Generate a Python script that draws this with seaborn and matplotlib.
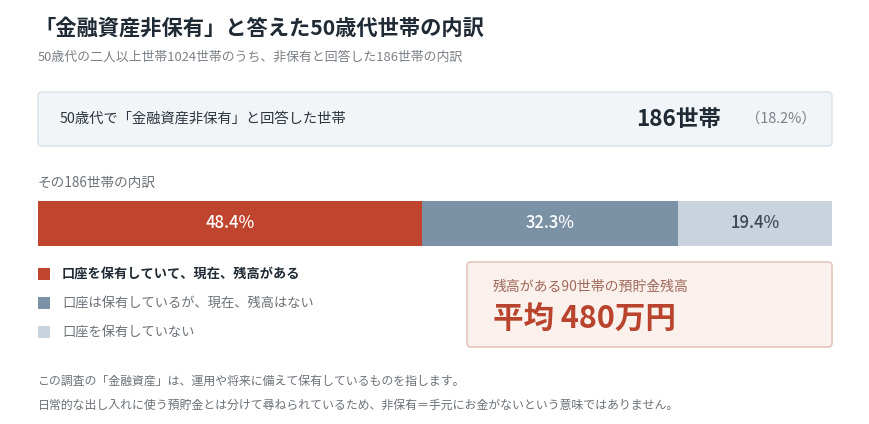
import numpy as np
import matplotlib
matplotlib.use("Agg")
import matplotlib.pyplot as plt
from matplotlib.patches import FancyBboxPatch, Rectangle
import seaborn as sns

# data
categories = ["口座を保有していて、現在、残高がある", "口座は保有しているが、現在、残高はない", "口座を保有していない"]
shares = [48.4, 32.3, 19.4]
colors = ["#c0452f", "#7a91a6", "#c8d3dd"]
label_colors = ["white", "white", "#3d4852"]
total_households = 186
total_share = 18.2
avg_balance = 480
holders_count = 90

sns.set_theme(style="white")
plt.rcParams['font.family'] = ['Noto Sans CJK JP', 'DejaVu Sans']

W, H = 870, 424
fig = plt.figure(figsize=(W / 100, H / 100), dpi=100)
fig.patch.set_facecolor("white")

# overlay axes in pixel coordinates for the text and the boxes
bg = fig.add_axes([0, 0, 1, 1])
bg.set_xlim(0, W)
bg.set_ylim(H, 0)
bg.axis("off")

# titles
bg.text(34, 28, "「金融資産非保有」と答えた50歳代世帯の内訳", fontsize=15.3, fontweight="bold",
        color="#1f2a35", va="center")
bg.text(38, 57, "50歳代の二人以上世帯1024世帯のうち、非保有と回答した186世帯の内訳", fontsize=9.3,
        color="#7b8088", va="center")

# summary box
bg.add_patch(FancyBboxPatch((38, 92), 794, 54, boxstyle="round,pad=0,rounding_size=4",
                            facecolor="#f2f5f7", edgecolor="#dae1e7", linewidth=1))
bg.text(60, 119, "50歳代で「金融資産非保有」と回答した世帯", fontsize=10.3, color="#2d3640", va="center")
bg.text(636, 119, f"{total_households}世帯", fontsize=16.2, fontweight="bold", color="#1f2a35", va="center")
bg.text(746, 119, f"（{total_share}%）", fontsize=10.4, color="#7b8088", va="center")

bg.text(38, 183, f"その{total_households}世帯の内訳", fontsize=9.8, color="#6b7178", va="center")

# legend
for i, (cat, col) in enumerate(zip(categories, colors)):
    y = 274 + i * 29
    bg.add_patch(Rectangle((38, y - 6), 12, 12, facecolor=col, edgecolor="none"))
    if i == 0:
        bg.text(62, y, cat, fontsize=9.5, fontweight="bold", color="#1f2a35", va="center")
    else:
        bg.text(62, y, cat, fontsize=9.5, color="#6b7178", va="center")

# callout box
bg.add_patch(FancyBboxPatch((467, 262), 365, 85, boxstyle="round,pad=0,rounding_size=4",
                            facecolor="#faf0ec", edgecolor="#e6c6bb", linewidth=1.2))
bg.text(493, 287, f"残高がある{holders_count}世帯の預貯金残高", fontsize=10, color="#a06a5a", va="center")
bg.text(493, 319, f"平均 {avg_balance}万円", fontsize=22, fontweight="bold", color="#b9432c", va="center")

# footnote
bg.text(38, 381, "この調査の「金融資産」は、運用や将来に備えて保有しているものを指します。",
        fontsize=8.6, color="#6b7178", va="center")
bg.text(38, 405, "日常的な出し入れに使う預貯金とは分けて尋ねられているため、非保有＝手元にお金がないという意味ではありません。",
        fontsize=8.6, color="#6b7178", va="center")

# stacked bar
ax = fig.add_axes([38 / W, 1 - 246 / H, 794 / W, 45 / H])
cum = np.cumsum(shares)
for i in range(len(shares) - 1, -1, -1):
    sns.barplot(x=[cum[i]], y=["内訳"], orient="h", color=colors[i], saturation=1,
                width=1, linewidth=0, ax=ax)
for i, s in enumerate(shares):
    ax.text(cum[i] - s / 2, 0, f"{s}%", ha="center", va="center", fontsize=12,
            fontweight="medium", color=label_colors[i])
ax.set_xlim(0, cum[-1])
ax.set_ylim(0.5, -0.5)
ax.axis("off")

fig.savefig("out.png", dpi=100)
